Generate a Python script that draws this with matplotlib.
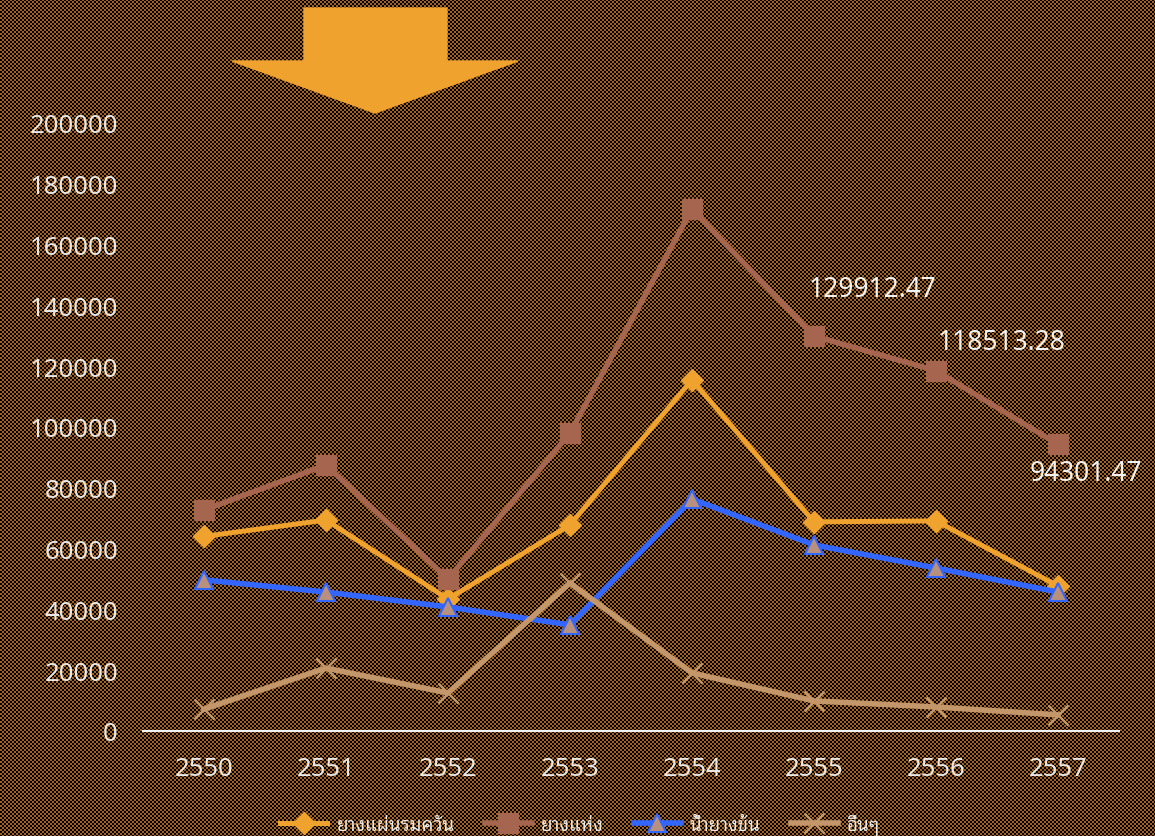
import numpy as np
import matplotlib
matplotlib.use("Agg")
import matplotlib.pyplot as plt
from matplotlib.patches import Polygon

plt.rcParams['font.family'] = ['Noto Sans Thai Looped', 'Noto Sans', 'DejaVu Sans']

# ข้อมูล
years = ['2550', '2551', '2552', '2553', '2554', '2555', '2556', '2557']
yang_rom_kwan = [64000, 69400, 43400, 67800, 115500, 68800, 69100, 47700]
yang_haeng = [72700, 87500, 50000, 98000, 171700, 129912.47, 118513.28, 94301.47]
nam_yang_khon = [49700, 45700, 40800, 34900, 76300, 61200, 53600, 45700]
uen_uen = [7200, 20700, 12500, 48700, 19100, 9900, 7900, 5300]
series_names = ['ยางแผ่นรมควัน', 'ยางแห่ง', 'น้ำยางข้น', 'อื่นๆ']

W, H = 1155, 837
fig = plt.figure(figsize=(W / 100, H / 100), dpi=100)

# พื้นหลังลายตาราง (วางทีละพิกเซล)
yy, xx = np.mgrid[0:H, 0:W]
chk = ((xx // 2 + yy // 2) % 2) == 1
img = np.zeros((H, W, 3))
img[chk] = [0.65, 0.39, 0.12]
fig.figimage(img, xo=0, yo=0, origin='upper', zorder=0)

# ลูกศร (พิกัดพิกเซลของรูป)
pts = [(304, 9), (447, 9), (447, 62), (518, 62), (375, 114), (232, 62), (304, 62)]
arrow = Polygon([(px, H - py) for px, py in pts], closed=True,
                color='#F0A22E', transform=None, zorder=2)
fig.patches.append(arrow)

ax = fig.add_axes([143 / W, 105 / H, 976 / W, 608 / H])
ax.set_zorder(3)
ax.patch.set_visible(False)
x = np.arange(len(years))

ax.plot(x, yang_rom_kwan, color='#F0A22E', lw=3.6, marker='D', ms=11.5,
        label=series_names[0])
ax.plot(x, yang_haeng, color='#A5654E', lw=4, marker='s', ms=14,
        label=series_names[1])
ax.plot(x, nam_yang_khon, color='#3366FF', lw=4, marker='^', ms=13,
        mfc='#B8907E', mec='#3366FF', mew=1.5, label=series_names[2])
ax.plot(x, uen_uen, color='#C4976A', lw=4, marker='x', ms=14, mew=1.8,
        label=series_names[3])

# ป้ายค่า
offsets = {5: (42, 34), 6: (47, 21), 7: (20, -21)}
for i, (dx, dy) in offsets.items():
    ax.annotate(f'{yang_haeng[i]:.2f}', (x[i], yang_haeng[i]),
                xytext=(dx, dy), textcoords='offset points', ha='center',
                va='center', color='#F2F2F2', fontsize=19)

ax.set_xlim(-0.5, len(years) - 0.5)
ax.set_ylim(0, 200000)
ax.set_yticks(np.arange(0, 200001, 20000))
ax.set_xticks(x)
ax.set_xticklabels(years)
ax.tick_params(length=0, colors='#E8E8E8', labelsize=18.5)
ax.tick_params(axis='x', pad=18)
ax.tick_params(axis='y', pad=18)
for s in ['top', 'right', 'left']:
    ax.spines[s].set_visible(False)
ax.spines['bottom'].set_color('#F2F2F2')
ax.spines['bottom'].set_linewidth(1.5)

ax.legend(loc='center', bbox_to_anchor=(0.448, -0.153), ncol=4,
          frameon=False, fontsize=13.5, handlelength=2.5, columnspacing=1.6,
          handletextpad=0.5, labelcolor='#E8E8E8')

fig.savefig('out.png', dpi=100)
